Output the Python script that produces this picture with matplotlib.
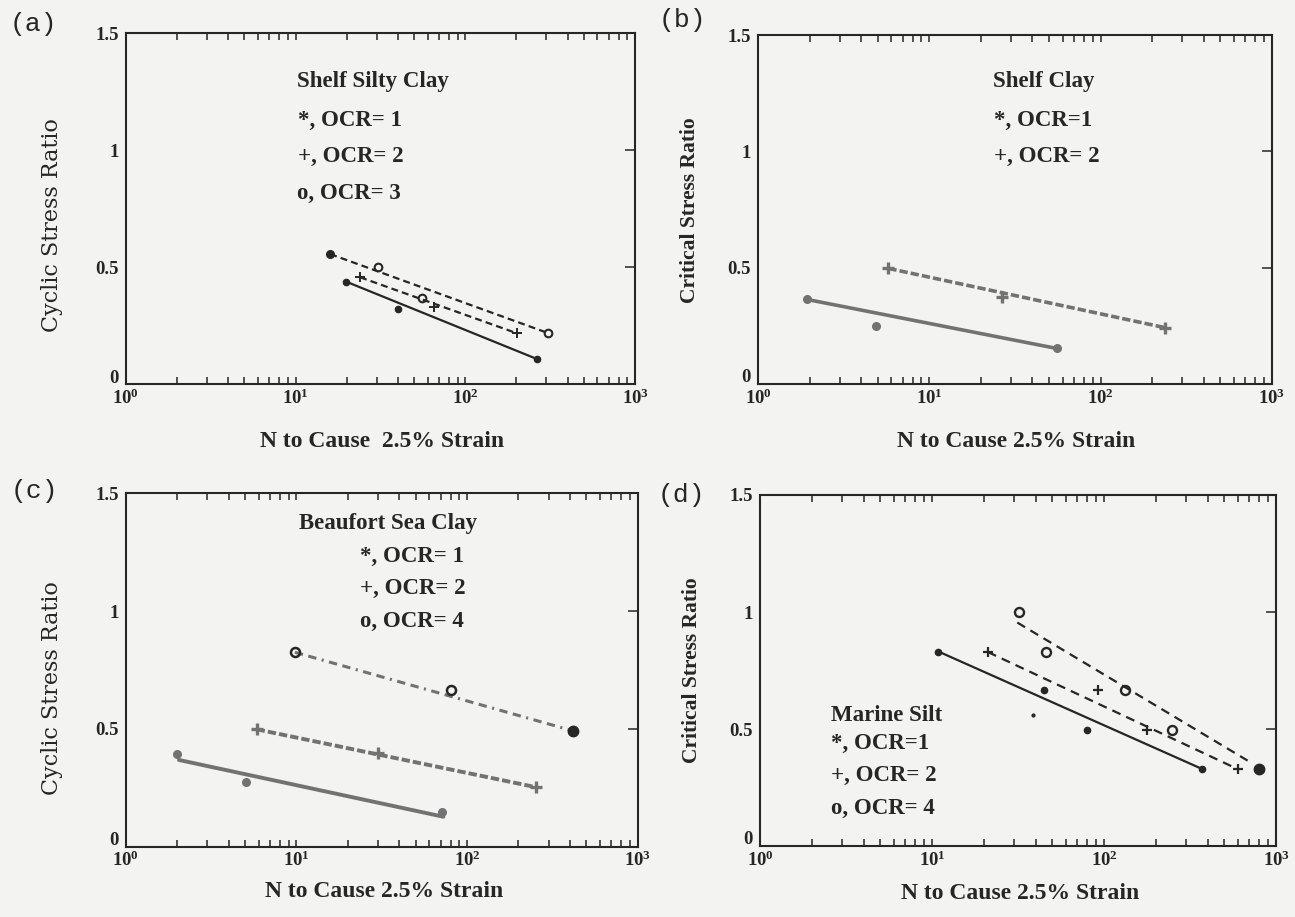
import matplotlib
matplotlib.use("Agg")
import matplotlib.pyplot as plt
from matplotlib.ticker import LogLocator, FixedLocator, FixedFormatter, NullFormatter
from matplotlib.transforms import ScaledTranslation

plt.rcParams["mathtext.fontset"] = "custom"
plt.rcParams["mathtext.rm"] = "Liberation Serif:bold"
plt.rcParams["mathtext.it"] = "Liberation Serif:bold"
plt.rcParams["mathtext.bf"] = "Liberation Serif:bold"
plt.rcParams["lines.scale_dashes"] = False

# ---------------- (a) Shelf Silty Clay ----------------
a_ocr1_n = [19.9, 39.9, 266]
a_ocr1_csr = [0.439, 0.321, 0.108]
a_ocr2_n = [24.0, 65, 201]
a_ocr2_csr = [0.458, 0.332, 0.219]
a_ocr3_n = [16.0, 30.8, 55.5, 309]
a_ocr3_csr = [0.557, 0.50, 0.37, 0.219]
a_fit1_n, a_fit1_csr = [19.9, 266], [0.439, 0.108]
a_fit2_n, a_fit2_csr = [24.0, 201], [0.458, 0.219]
a_fit3_n, a_fit3_csr = [16.0, 309], [0.557, 0.219]

# ---------------- (b) Shelf Clay ----------------
b_ocr1_n = [1.92, 4.89, 55.4]
b_ocr1_csr = [0.364, 0.251, 0.153]
b_ocr2_n = [5.77, 26.5, 239]
b_ocr2_csr = [0.497, 0.375, 0.242]
b_fit1_n, b_fit1_csr = [1.92, 55.4], [0.364, 0.153]
b_fit2_n, b_fit2_csr = [5.77, 239], [0.497, 0.242]

# ---------------- (c) Beaufort Sea Clay ----------------
c_ocr1_n = [2.01, 5.07, 71]
c_ocr1_csr = [0.393, 0.273, 0.149]
c_ocr2_n = [5.85, 30.2, 255]
c_ocr2_csr = [0.498, 0.396, 0.252]
c_ocr4_n = [9.8, 80.5, 415]
c_ocr4_csr = [0.825, 0.665, 0.492]
c_fit1_n, c_fit1_csr = [2.05, 72.6], [0.368, 0.127]
c_fit2_n, c_fit2_csr = [5.85, 255], [0.498, 0.252]
c_fit4_n, c_fit4_csr = [9.8, 415], [0.825, 0.492]

# ---------------- (d) Marine Silt ----------------
d_ocr1_n = [10.9, 44.8, 79.7, 372]
d_ocr1_csr = [0.831, 0.666, 0.496, 0.329]
d_speck_n, d_speck_csr = [38.8], [0.561]
d_ocr2_n = [21.1, 92, 177, 597]
d_ocr2_csr = [0.829, 0.666, 0.497, 0.329]
d_ocr4_n = [32.2, 45.8, 133, 248, 800]
d_ocr4_csr = [1.0, 0.829, 0.666, 0.497, 0.329]
d_fit1_n, d_fit1_csr = [10.9, 372], [0.831, 0.329]
d_fit2_n, d_fit2_csr = [21.1, 597], [0.829, 0.329]
d_fit4_n, d_fit4_csr = [31.3, 683], [0.955, 0.365]

x_ticks = [1, 10, 100, 1000]
x_tick_labels = [r"$10^{0}$", r"$10^{1}$", r"$10^{2}$", r"$10^{3}$"]
y_ticks = [0, 0.5, 1, 1.5]
y_tick_labels = ["0", "0.5", "1", "1.5"]

INK = "#262626"
GREY = "#727272"
BG = "#f3f3f1"
SERIF = "Liberation Serif"

fig = plt.figure(figsize=(12.95, 9.17), dpi=100, facecolor=BG)


def setup_axes(rect, ylabel, ylabel_font, ylabel_pos, xlabel, xlabel_pos, tag, tag_pos):
    ax = fig.add_axes(rect)
    ax.set_facecolor(BG)
    ax.set_xscale("log")
    ax.set_xlim(1, 1000)
    ax.set_ylim(0, 1.5)
    ax.xaxis.set_major_locator(FixedLocator(x_ticks))
    ax.xaxis.set_major_formatter(FixedFormatter(x_tick_labels))
    ax.xaxis.set_minor_locator(LogLocator(base=10, subs=range(2, 10)))
    ax.xaxis.set_minor_formatter(NullFormatter())
    ax.set_yticks(y_ticks)
    ax.set_yticklabels(y_tick_labels)
    for s in ax.spines.values():
        s.set_linewidth(1.5)
        s.set_color(INK)
    ax.tick_params(axis="x", which="both", direction="in", top=True, bottom=True,
                   length=5, width=1.1, color=INK, pad=3, labelsize=13.5,
                   labelcolor=INK)
    ax.tick_params(axis="y", which="both", direction="in", left=False, right=True,
                   labelleft=True, length=7, width=1.1, color=INK, pad=5,
                   labelsize=13.5, labelcolor=INK)
    ylabs = ax.get_yticklabels()
    for lab in ylabs:
        lab.set_fontfamily(SERIF)
        lab.set_fontweight("bold")
    # the zero label sits a little above the axis line, clear of 10^0
    ylabs[0].set_transform(ylabs[0].get_transform()
                           + ScaledTranslation(0, 6 / 72, fig.dpi_scale_trans))
    if ylabel_font == "century":
        ax.text(ylabel_pos[0], ylabel_pos[1], ylabel, transform=ax.transAxes,
                rotation=90, ha="center", va="center", fontsize=16,
                family="DejaVu Serif", color=INK)
    else:
        ax.text(ylabel_pos[0], ylabel_pos[1], ylabel, transform=ax.transAxes,
                rotation=90, ha="center", va="center", fontsize=15.5,
                family=SERIF, weight="bold", color=INK)
    ax.text(xlabel_pos[0], xlabel_pos[1], xlabel, transform=ax.transAxes,
            ha="center", va="center", fontsize=17, family=SERIF,
            weight="bold", color=INK)
    fig.text(tag_pos[0], tag_pos[1], tag, ha="center", va="center",
             fontsize=19, family="Liberation Mono", color=INK)
    return ax


def legend_text(ax, entries):
    for (x, y, s) in entries:
        ax.text(x, y, s, transform=ax.transAxes, ha="left", va="center",
                fontsize=16.5, family=SERIF, weight="bold", color=INK)


def fit(ax, n, r, color, lw, dashes=None):
    line, = ax.plot(n, r, color=color, lw=lw, solid_capstyle="round",
                    dash_capstyle="butt")
    if dashes is not None:
        line.set_dashes(dashes)


def dots(ax, n, r, color, ms=5):
    ax.plot(n, r, ls="none", marker="o", ms=ms, mfc=color, mec=color)


def plus(ax, n, r, color, ms=8, mew=1.6):
    ax.plot(n, r, ls="none", marker="+", ms=ms, mew=mew, color=color)


def rings(ax, n, r, color, ms=6.5, mew=1.6):
    ax.plot(n, r, ls="none", marker="o", ms=ms, mfc="none", mec=color, mew=mew)


# ---------------- panel (a) ----------------
ax = setup_axes([0.0971, 0.5807, 0.3933, 0.3830], "Cyclic Stress Ratio", "century",
                (-0.145, 0.454), "N to Cause  2.5% Strain", (0.503, -0.163),
                "(a)", (0.0255, 0.974))
fit(ax, a_fit1_n, a_fit1_csr, INK, 1.6)
fit(ax, a_fit2_n, a_fit2_csr, INK, 1.6, (5.0, 3.0))
fit(ax, a_fit3_n, a_fit3_csr, INK, 1.6, (5.0, 3.0))
dots(ax, a_ocr1_n, a_ocr1_csr, INK, ms=4.5)
plus(ax, a_ocr2_n, a_ocr2_csr, INK, ms=6.5, mew=1.4)
rings(ax, a_ocr3_n[1:], a_ocr3_csr[1:], INK, ms=5.5, mew=1.5)
dots(ax, a_ocr3_n[:1], a_ocr3_csr[:1], INK, ms=5.5)
legend_text(ax, [(0.336, 0.862, "Shelf Silty Clay"),
                 (0.338, 0.753, "*, OCR= 1"),
                 (0.338, 0.649, "+, OCR= 2"),
                 (0.336, 0.544, "o, OCR= 3")])

# ---------------- panel (b) ----------------
ax = setup_axes([0.5853, 0.5812, 0.3969, 0.3806], "Critical Stress Ratio", "times",
                (-0.132, 0.499), "N to Cause 2.5% Strain", (0.502, -0.165),
                "(b)", (0.5266, 0.978))
fit(ax, b_fit1_n, b_fit1_csr, GREY, 2.6)
fit(ax, b_fit2_n, b_fit2_csr, GREY, 2.6, (6.0, 2.2))
dots(ax, b_ocr1_n, b_ocr1_csr, GREY, ms=5.5)
plus(ax, b_ocr2_n, b_ocr2_csr, GREY, ms=8, mew=2.4)
legend_text(ax, [(0.458, 0.866, "Shelf Clay"),
                 (0.460, 0.756, "*, OCR=1"),
                 (0.460, 0.651, "+, OCR= 2")])

# ---------------- panel (c) ----------------
ax = setup_axes([0.0971, 0.0767, 0.3954, 0.3854], "Cyclic Stress Ratio", "century",
                (-0.144, 0.450), "N to Cause 2.5% Strain", (0.504, -0.127),
                "(c)", (0.0263, 0.4646))
fit(ax, c_fit1_n, c_fit1_csr, GREY, 2.8)
fit(ax, c_fit2_n, c_fit2_csr, GREY, 2.8, (6.0, 2.2))
fit(ax, c_fit4_n, c_fit4_csr, GREY, 2.2, (6.0, 4.0, 6.0, 4.0, 1.5, 4.0))
dots(ax, c_ocr1_n, c_ocr1_csr, GREY, ms=5.5)
plus(ax, c_ocr2_n, c_ocr2_csr, GREY, ms=8, mew=2.4)
rings(ax, c_ocr4_n[:-1], c_ocr4_csr[:-1], INK, ms=6.5, mew=1.8)
dots(ax, c_ocr4_n[-1:], c_ocr4_csr[-1:], INK, ms=7.5)
legend_text(ax, [(0.338, 0.915, "Beaufort Sea Clay"),
                 (0.458, 0.821, "*, OCR= 1"),
                 (0.458, 0.731, "+, OCR= 2"),
                 (0.458, 0.637, "o, OCR= 4")])

# ---------------- panel (d) ----------------
ax = setup_axes([0.5869, 0.0774, 0.3985, 0.3828], "Critical Stress Ratio", "times",
                (-0.132, 0.501), "N to Cause 2.5% Strain", (0.504, -0.134),
                "(d)", (0.5259, 0.460))
fit(ax, d_fit1_n, d_fit1_csr, INK, 1.6)
fit(ax, d_fit2_n, d_fit2_csr, INK, 1.6, (6.5, 4.5))
fit(ax, d_fit4_n, d_fit4_csr, INK, 1.6, (6.5, 4.5))
dots(ax, d_ocr1_n, d_ocr1_csr, INK, ms=4.5)
dots(ax, d_speck_n, d_speck_csr, INK, ms=2)
plus(ax, d_ocr2_n, d_ocr2_csr, INK, ms=7, mew=1.6)
rings(ax, d_ocr4_n[:-1], d_ocr4_csr[:-1], INK, ms=6.5, mew=1.7)
dots(ax, d_ocr4_n[-1:], d_ocr4_csr[-1:], INK, ms=7.5)
legend_text(ax, [(0.138, 0.373, "Marine Silt"),
                 (0.138, 0.293, "*, OCR=1"),
                 (0.138, 0.202, "+, OCR= 2"),
                 (0.138, 0.107, "o, OCR= 4")])

fig.savefig("out.png", dpi=100, facecolor=BG)
